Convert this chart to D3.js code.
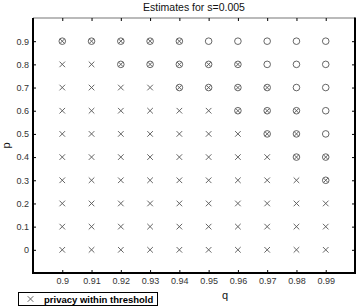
<!DOCTYPE html>
<html><head><meta charset="utf-8">
<script src="https://cdn.jsdelivr.net/npm/d3@7"></script>
<style>body{margin:0;background:#fff}svg{display:block;font-family:"Liberation Sans",Arial,sans-serif}</style>
</head><body>
<script>
const title = "Estimates for s=0.005";
const qValues = [0.90,0.91,0.92,0.93,0.94,0.95,0.96,0.97,0.98,0.99];
const pValues = [0,0.1,0.2,0.3,0.4,0.5,0.6,0.7,0.8,0.9];
const xTicks = [0.9,0.91,0.92,0.93,0.94,0.95,0.96,0.97,0.98,0.99];
const yTicks = [0,0.1,0.2,0.3,0.4,0.5,0.6,0.7,0.8,0.9];
// x = privacy within threshold, o = circle only, b = both
const statusRows = [
  "xxxxxxxxxx",
  "xxxxxxxxxx",
  "xxxxxxxxxx",
  "xxxxxxxxxb",
  "xxxxxxxxbb",
  "xxxxxxxbbo",
  "xxxxxxbbbo",
  "xxxxbbbboo",
  "xxbbbbbooo",
  "bbbbbooooo"
];
const legendLabel = "privacy within threshold";

const W=360,H=308;
const svg=d3.select("body").append("svg").attr("width",W).attr("height",H);
const L=33,R=355,T=18,B=273;
const x=d3.scaleLinear().domain([0.89,1.0]).range([L,R]);
const y=d3.scaleLinear().domain([-0.1,1.0]).range([B,T]);

// frame
svg.append("line").attr("x1",L).attr("x2",R).attr("y1",T).attr("y2",T).attr("stroke","#777").attr("stroke-width",1.2);
svg.append("line").attr("x1",R).attr("x2",R).attr("y1",T-0.5).attr("y2",B+1).attr("stroke","#000").attr("stroke-width",2);

const fmt=d=>d===0?"0":String(+d.toFixed(2));
const gx=svg.append("g").attr("transform",`translate(0,${B})`)
  .call(d3.axisBottom(x).tickValues(xTicks).tickSize(-3).tickPadding(5).tickFormat(fmt));
const gy=svg.append("g").attr("transform",`translate(${L},0)`)
  .call(d3.axisLeft(y).tickValues(yTicks).tickSize(-3).tickPadding(4).tickFormat(fmt));
const gt=svg.append("g").attr("transform",`translate(0,${T})`)
  .call(d3.axisTop(x).tickValues(xTicks).tickSize(-3).tickFormat(""));
const gr=svg.append("g").attr("transform",`translate(${R},0)`)
  .call(d3.axisRight(y).tickValues(yTicks).tickSize(-3).tickFormat(""));
[gt,gr].forEach(g=>{g.select(".domain").remove();g.selectAll(".tick line").attr("stroke","#000").attr("stroke-width",1);});
[gx,gy].forEach(g=>{
  g.select(".domain").attr("stroke","#000").attr("stroke-width",2);
  g.selectAll(".tick line").attr("stroke","#000").attr("stroke-width",1);
  g.selectAll(".tick text").attr("font-size",9).attr("fill","#333").attr("font-family","Liberation Sans, Arial, sans-serif");
});
gy.select(".domain").attr("d",`M0,${T}V${B+1}`);
gx.select(".domain").attr("d",`M${L-1},0H${R}`);

// markers
const pts=[];
pValues.forEach((p,i)=>qValues.forEach((q,j)=>pts.push({p,q,s:statusRows[i][j]})));
const mg=svg.append("g");
const xs=2.8;
pts.forEach(d=>{
  const cx=x(d.q),cy=y(d.p);
  if(d.s==="x"||d.s==="b"){
    const s=d.s==="b"?2.2:xs;
    mg.append("path").attr("d",`M${cx-s},${cy-s}L${cx+s},${cy+s}M${cx-s},${cy+s}L${cx+s},${cy-s}`)
      .attr("stroke","#555").attr("stroke-width",0.9).attr("fill","none");
  }
  if(d.s==="o"||d.s==="b"){
    mg.append("circle").attr("cx",cx).attr("cy",cy).attr("r",3.3)
      .attr("stroke","#555").attr("stroke-width",0.9).attr("fill","none");
  }
});

// title & labels
svg.append("text").attr("x",(L+R)/2).attr("y",10.5).attr("text-anchor","middle").attr("font-size",10.5).attr("fill","#111").text(title);
svg.append("text").attr("x",225).attr("y",299).attr("text-anchor","middle").attr("font-size",11).attr("fill","#111").text("q");
svg.append("text").attr("transform",`translate(10,${(T+B)/2}) rotate(-90)`).attr("text-anchor","middle").attr("font-size",11).attr("fill","#111").text("p");

// legend
const lg=svg.append("g");
lg.append("rect").attr("x",18.5).attr("y",292.5).attr("width",139).attr("height",13).attr("fill","#fff").attr("stroke","#000").attr("stroke-width",1);
const lx=30.5,ly=299;
lg.append("path").attr("d",`M${lx-xs},${ly-xs}L${lx+xs},${ly+xs}M${lx-xs},${ly+xs}L${lx+xs},${ly-xs}`).attr("stroke","#555").attr("stroke-width",0.9);
lg.append("text").attr("x",44).attr("y",302.5).attr("font-size",9.5).attr("font-weight","bold").attr("fill","#000").text(legendLabel);
</script>
</body></html>
